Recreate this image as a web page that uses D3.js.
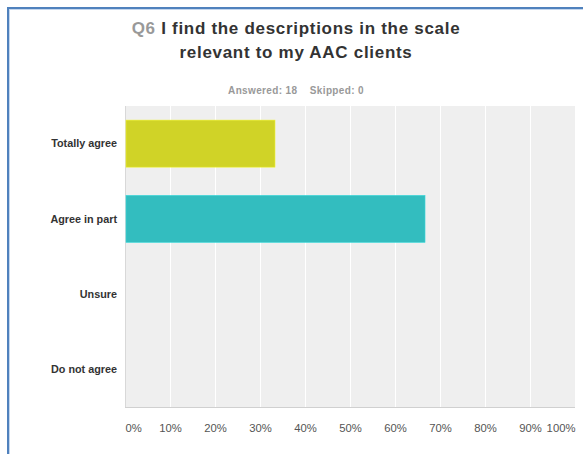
<!DOCTYPE html>
<html>
<head>
<meta charset="utf-8">
<script src="https://cdn.jsdelivr.net/npm/d3@7"></script>
<style>
    body { margin: 0; background: #fff; }
    svg { display: block; font-family: "Liberation Sans", Arial, sans-serif; }
</style>
</head>
<body>
<svg id="chart" width="583" height="454"></svg>
<script>
const categories = ["Totally agree", "Agree in part", "Unsure", "Do not agree"];
const percents = [33.33, 66.67, 0, 0];
const barColors = ["#d0d327", "#33bdbf", "#f4a14e", "#cc5f95"];
const tickValues = [0, 10, 20, 30, 40, 50, 60, 70, 80, 90, 100];

const svg = d3.select("#chart");
const width = 583;

// Plot area bounds
const plot = { left: 125, right: 575, top: 106, bottom: 407 };

// Frame lines (blue border top + left)
svg.append("rect").attr("x", 7).attr("y", 7).attr("width", width - 7).attr("height", 2).attr("fill", "#4f81bd");
svg.append("rect").attr("x", 7).attr("y", 7).attr("width", 2).attr("height", 454 - 7).attr("fill", "#4f81bd");
svg.append("rect").attr("x", 9).attr("y", 9).attr("width", width - 9).attr("height", 1).attr("fill", "#c5d7ee");
svg.append("rect").attr("x", 9).attr("y", 9).attr("width", 1).attr("height", 454 - 9).attr("fill", "#c5d7ee");

// Title
const title = svg.append("text")
    .attr("x", 296)
    .attr("y", 34)
    .attr("text-anchor", "middle")
    .style("font-size", "17px")
    .style("letter-spacing", "0.7px")
    .style("font-weight", "bold")
    .attr("fill", "#333");
title.append("tspan").attr("fill", "#999").text("Q6 ");
title.append("tspan").text("I find the descriptions in the scale");

svg.append("text")
    .attr("x", 296)
    .attr("y", 58)
    .attr("text-anchor", "middle")
    .style("font-size", "17px")
    .style("letter-spacing", "0.7px")
    .style("font-weight", "bold")
    .attr("fill", "#333")
    .text("relevant to my AAC clients");

svg.append("text")
    .attr("x", 296)
    .attr("y", 94)
    .attr("text-anchor", "middle")
    .style("font-size", "10px")
    .style("letter-spacing", "0.35px")
    .style("font-weight", "bold")
    .attr("fill", "#999")
    .attr("xml:space", "preserve")
    .text("Answered: 18    Skipped: 0");

// Scales
const x = d3.scaleLinear().domain([0, 100]).range([plot.left, plot.right]);
const y = d3.scaleBand()
    .domain(categories)
    .range([plot.top, plot.bottom])
    .paddingInner(0.375)
    .paddingOuter(0.1875);

// Background
svg.append("rect")
    .attr("x", plot.left)
    .attr("y", plot.top)
    .attr("width", plot.right - plot.left)
    .attr("height", plot.bottom - plot.top)
    .attr("fill", "#efefef");

// Gridlines
svg.append("g")
    .selectAll("line")
    .data(tickValues.slice(1, -1))
    .enter().append("line")
    .attr("x1", d => x(d) + 0.5)
    .attr("x2", d => x(d) + 0.5)
    .attr("y1", plot.top)
    .attr("y2", plot.bottom)
    .attr("stroke", "#fff")
    .attr("stroke-width", 1);

// Axis lines
svg.append("line")
    .attr("x1", plot.left + 0.5).attr("x2", plot.left + 0.5)
    .attr("y1", plot.top).attr("y2", plot.bottom)
    .attr("stroke", "#d8d8d8");
svg.append("line")
    .attr("x1", plot.left).attr("x2", plot.right)
    .attr("y1", plot.bottom + 0.5).attr("y2", plot.bottom + 0.5)
    .attr("stroke", "#d0d0d0");

// Bars
svg.append("g")
    .selectAll("rect")
    .data(categories.map((c, i) => ({ cat: c, value: percents[i], color: barColors[i] })))
    .enter().append("rect")
    .attr("x", x(0) + 1)
    .attr("y", d => y(d.cat))
    .attr("width", d => Math.max(0, x(d.value) - x(0) - 1))
    .attr("height", y.bandwidth())
    .attr("fill", d => d.color)
    .attr("stroke", d => d.value > 0 ? d3.color(d.color).brighter(0.4) : "none")
    .attr("stroke-width", d => d.value > 0 ? 0.6 : 0);

// Category labels
svg.append("g")
    .selectAll("text")
    .data(categories)
    .enter().append("text")
    .attr("x", 117)
    .attr("y", d => y(d) + y.bandwidth() / 2)
    .attr("dy", "0.35em")
    .attr("text-anchor", "end")
    .style("font-size", "10.8px")
    .style("font-weight", "bold")
    .attr("fill", "#333")
    .text(d => d);

// X axis labels
const xAxis = d3.axisBottom(x)
    .tickValues(tickValues)
    .tickSize(0)
    .tickPadding(0)
    .tickFormat(d => d + "%");

const axisG = svg.append("g")
    .attr("transform", `translate(0, 424)`)
    .call(xAxis);
axisG.select(".domain").remove();
axisG.selectAll("text")
    .style("font-size", "11.3px")
    .style("font-family", "\"Liberation Sans\", Arial, sans-serif")
    .attr("fill", "#555")
    .attr("text-anchor", d => d === 0 ? "start" : d === 100 ? "end" : "middle");
</script>
</body>
</html>
